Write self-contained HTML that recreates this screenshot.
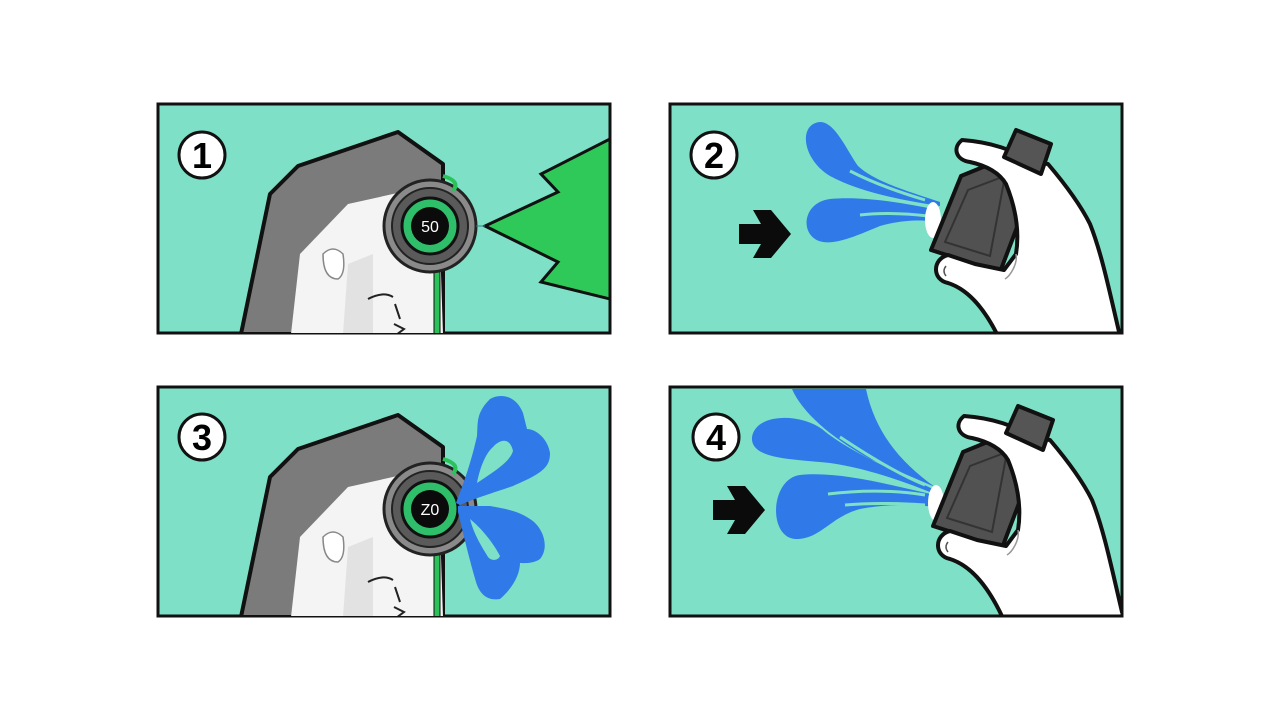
<!DOCTYPE html>
<html><head><meta charset="utf-8"><style>
html,body{margin:0;padding:0;background:#fff;}
svg{display:block}
</style></head><body>
<svg width="1280" height="720" viewBox="0 0 1280 720" xmlns="http://www.w3.org/2000/svg">
<defs>
<g id="face">
  <polygon points="83,230 112,90 140,62 240,28 285,60 285,230" fill="#7b7b7b" stroke="#111" stroke-width="4" stroke-linejoin="round"/>
  <polygon points="133,230 142,150 190,100 280,80 285,230" fill="#f4f4f4"/>
  <polygon points="185,230 190,160 215,150 215,230" fill="#e2e2e2"/>
  <path d="M165,150 q10,-10 20,0 q3,20 -5,25 q-15,0 -15,-25z" fill="#fff" stroke="#888" stroke-width="1.5"/>
  <path d="M210,195 q15,-8 25,-2 M237,200 l5,15" stroke="#222" stroke-width="2" fill="none"/>
  <path d="M236,220 l10,5 l-8,6" stroke="#222" stroke-width="2" fill="none"/>
  <rect x="276" y="165" width="6" height="65" fill="#2cc25a" stroke="#111" stroke-width="1"/>
  <circle cx="272" cy="122" r="46" fill="#8a8a8a" stroke="#222" stroke-width="3"/>
  <circle cx="272" cy="122" r="38" fill="#5a5a5a" stroke="#222" stroke-width="2"/>
  <circle cx="272" cy="122" r="28" fill="#2fbf6a" stroke="#111" stroke-width="3"/>
  <circle cx="272" cy="122" r="19" fill="#0b0b0b"/>
  <path d="M285,72 q18,5 10,15" stroke="#2cc25a" stroke-width="4" fill="none"/>
</g>
<g id="hand">
  <polygon points="291,72 345,50 368,68 330,168 261,146" fill="#515151" stroke="#111" stroke-width="4" stroke-linejoin="round"/>
  <polygon points="298,86 335,72 320,152 275,138" fill="none" stroke="#333" stroke-width="2"/>
  <path d="M292,36 C282,44 286,56 300,58 C318,62 330,70 336,80 C345,102 350,125 346,150 L334,166 L305,160 L278,151 C262,155 262,176 278,179 C300,186 318,208 334,245 L460,245 L450,232 C440,190 432,150 420,120 C410,100 395,80 378,60 L360,58 C345,46 320,38 292,36 Z" fill="#fff" stroke="#111" stroke-width="4" stroke-linejoin="round"/>
  <path d="M346,150 C348,160 340,172 335,175" stroke="#999" stroke-width="1.5" fill="none"/>
  <polygon points="346,26 381,40 371,70 334,53" fill="#555" stroke="#111" stroke-width="4" stroke-linejoin="round"/>
  <path d="M276,162 q-4,5 0,10" stroke="#555" stroke-width="1.5" fill="none"/>
</g>
<g id="arrow"><polygon points="0,14 22,14 14,0 32,0 52,24 32,48 14,48 22,34 0,34" fill="#0b0b0b"/></g>
<g id="badge"><circle cx="0" cy="0" r="23" fill="#fff" stroke="#111" stroke-width="3"/></g>
</defs>

<!-- Panel 1 -->
<rect x="158" y="104" width="452" height="229" fill="#7ee0c6" stroke="#111" stroke-width="3"/>
<svg x="158" y="104" width="452" height="229"><use href="#face"/>
<polygon points="452,35 383,70 400,88 327,122 400,158 383,178 452,195" fill="#2fc95a" stroke="#111" stroke-width="3"/>
<line x1="318" y1="122" x2="327" y2="122" stroke="#3a7a8a" stroke-width="1"/>
<text x="272" y="128" font-family="Liberation Sans, sans-serif" font-size="16" fill="#fff" text-anchor="middle">50</text></svg>
<use href="#badge" x="202" y="155"/>
<text x="202" y="168" font-family="Liberation Sans, sans-serif" font-size="36" font-weight="bold" text-anchor="middle">1</text>

<!-- Panel 2 -->
<rect x="670" y="104" width="452" height="229" fill="#7ee0c6" stroke="#111" stroke-width="3"/>
<svg x="670" y="104" width="452" height="229">
<path d="M270,98 C240,88 205,78 188,62 C176,45 165,18 150,18 C128,20 132,55 160,72 C190,88 230,96 270,102 Z" fill="#2f7ae8"/>
<path d="M268,106 C230,98 190,92 160,95 C135,98 130,125 145,135 C160,145 190,130 210,122 C235,115 255,116 268,118 Z" fill="#2f7ae8"/>
<path d="M180,67 C205,80 235,90 255,96 M190,111 C215,108 240,110 258,112" stroke="#7ee0c6" stroke-width="3" fill="none"/>
<ellipse cx="263" cy="116" rx="8" ry="18" fill="#fff"/>
<use href="#hand"/>
<use href="#arrow" x="69" y="106"/>
</svg>
<rect x="670" y="104" width="452" height="229" fill="none" stroke="#111" stroke-width="3"/>
<use href="#badge" x="714" y="155"/>
<text x="714" y="168" font-family="Liberation Sans, sans-serif" font-size="36" font-weight="bold" text-anchor="middle">2</text>

<!-- Panel 3 -->
<rect x="158" y="387" width="452" height="229" fill="#7ee0c6" stroke="#111" stroke-width="3"/>
<svg x="158" y="387" width="452" height="229"><use href="#face"/>
<path d="M298,116 C304,100 312,80 319,49 C320,35 318,26 332,12 C342,6 358,8 365,26 L369,42 C378,42 390,52 392,66 C392,80 385,86 355,99 C335,106 320,110 302,118 Z" fill="#2f7ae8"/>
<path d="M319,96 C322,80 328,66 335,60 C342,52 352,50 355,64 C352,74 340,82 319,96 Z" fill="#7ee0c6"/>
<path d="M300,119 L332,119 C350,122 362,125 372,132 C385,140 392,160 382,172 C375,177 365,176 362,176 C362,186 356,200 342,212 C330,214 322,208 318,195 C312,175 306,150 300,125 Z" fill="#2f7ae8"/>
<path d="M312,132 C322,140 335,155 342,169 C340,174 333,174 330,170 C324,160 316,148 312,132 Z" fill="#7ee0c6"/>
<text x="272" y="128" font-family="Liberation Sans, sans-serif" font-size="16" fill="#fff" text-anchor="middle">Z0</text></svg>
<use href="#badge" x="202" y="437"/>
<text x="202" y="450" font-family="Liberation Sans, sans-serif" font-size="36" font-weight="bold" text-anchor="middle">3</text>

<!-- Panel 4 -->
<rect x="670" y="387" width="452" height="229" fill="#7ee0c6" stroke="#111" stroke-width="3"/>
<svg x="670" y="387" width="452" height="229">
<path d="M265,100 C230,75 205,45 196,2 L122,2 C132,25 160,50 200,72 Z" fill="#2f7ae8"/>
<path d="M265,103 C220,82 175,62 152,42 C130,26 86,26 82,50 C80,72 120,72 160,76 C200,82 235,95 265,107 Z" fill="#2f7ae8"/>
<path d="M265,108 C220,98 170,84 130,88 C100,92 98,150 125,152 C150,153 160,130 190,122 C220,116 250,118 265,120 Z" fill="#2f7ae8"/>
<path d="M170,50 C200,70 230,88 255,98 M158,107 C200,102 230,104 255,108 M175,118 C210,115 240,117 255,118" stroke="#7ee0c6" stroke-width="3" fill="none"/>
<ellipse cx="266" cy="116" rx="8" ry="18" fill="#fff"/>
<g transform="translate(2,-7)"><use href="#hand"/></g>
<use href="#arrow" x="43" y="99"/>
</svg>
<rect x="670" y="387" width="452" height="229" fill="none" stroke="#111" stroke-width="3"/>
<use href="#badge" x="716" y="437"/>
<text x="716" y="450" font-family="Liberation Sans, sans-serif" font-size="36" font-weight="bold" text-anchor="middle">4</text>
</svg>
</body></html>
